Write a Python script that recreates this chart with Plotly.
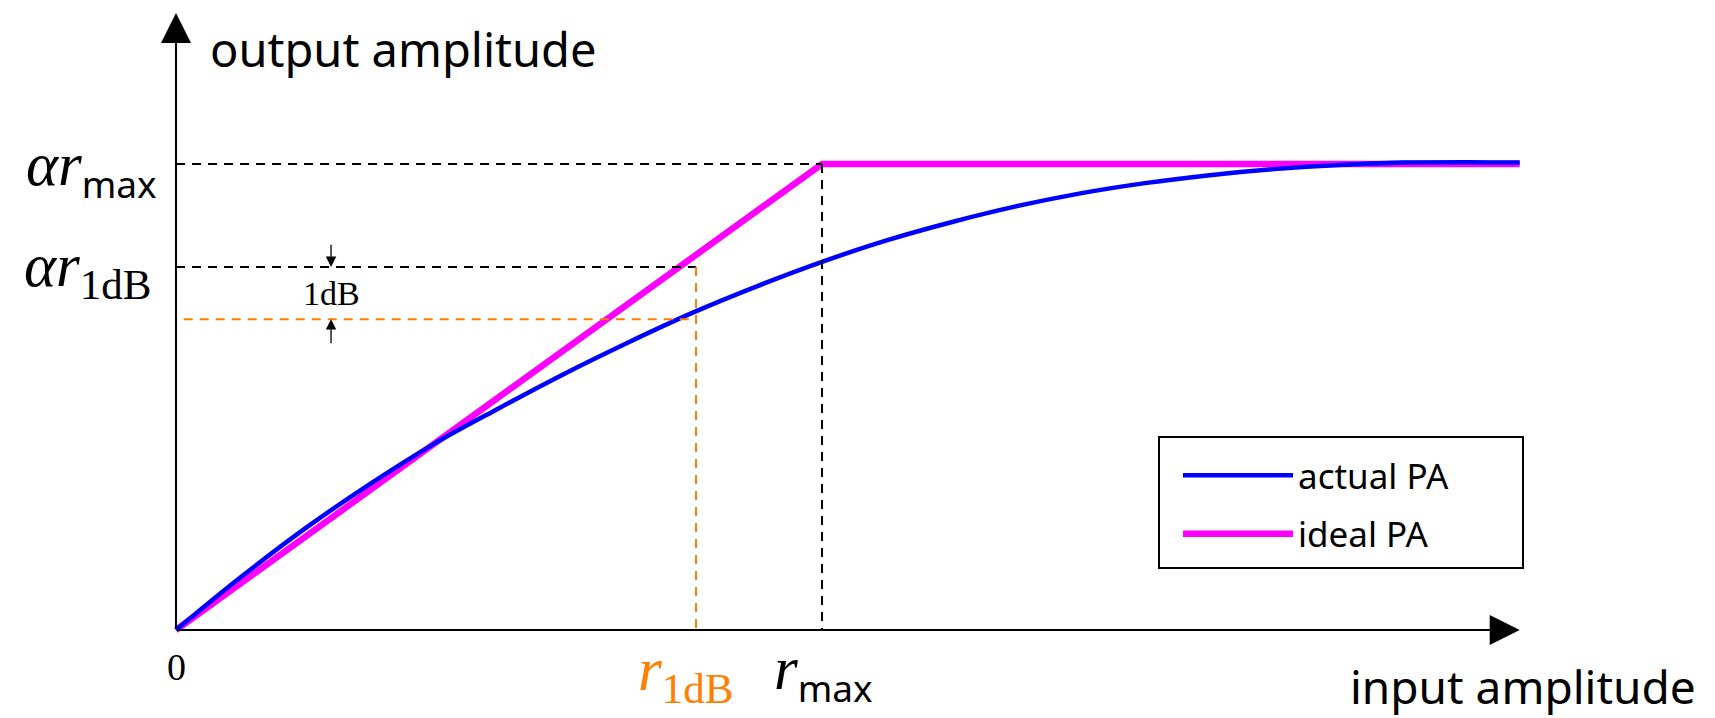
import plotly.graph_objects as go

# ---------------- data ----------------
actual_x = [0.0, 0.1, 0.2, 0.3, 0.4, 0.5, 0.6, 0.7, 0.8, 0.9, 1.0,
            1.1, 1.2, 1.3, 1.4, 1.5, 1.6, 1.7, 1.8, 1.9, 2.0, 2.08]
actual_y = [0.0, 0.113, 0.218, 0.313, 0.400, 0.476, 0.549, 0.617, 0.681, 0.738, 0.790,
            0.836, 0.875, 0.909, 0.937, 0.959, 0.976, 0.989, 0.998, 1.003, 1.004, 1.003]
ideal_x = [0.0, 1.0, 2.08]
ideal_y = [0.0, 1.0, 1.0]

r_max = 1.0
r_1dB = 0.805
a_rmax = 1.0          # alpha * r_max
a_r1dB = 0.779        # alpha * r_1dB
actual_at_r1dB = 0.667
x_end = 2.08
y_end = 1.324
gap_marker_x = 0.24
gap_arrow_top = 0.830
gap_arrow_bottom = 0.612

# ---------------- styling ----------------
BLUE = "#0000ff"
MAGENTA = "#ff00ff"
ORANGE = "#ff8000"
SANS = "Noto Sans"
SERIF = "Liberation Serif"

W, H = 1715, 718
# page px -> data : x = (px-176)/646 ; y = (630-py)/466
xr = [(0 - 176) / 646, (W - 176) / 646]
yr = [(630 - H) / 466, (630 - 0) / 466]

fig = go.Figure()
fig.add_trace(go.Scatter(x=ideal_x, y=ideal_y, mode="lines", name="ideal PA",
                         line=dict(color=MAGENTA, width=6.5), legendrank=2, legendgroup="b"))
fig.add_trace(go.Scatter(x=actual_x, y=actual_y, mode="lines", name="actual PA",
                         line=dict(color=BLUE, width=4.5, shape="spline", smoothing=1.0),
                         legendrank=1, legendgroup="a"))

dash = "9px,7px"
shapes = [
    dict(type="line", x0=0, x1=r_max, y0=a_rmax, y1=a_rmax, line=dict(color="black", width=2, dash=dash)),
    dict(type="line", x0=r_max, x1=r_max, y0=a_rmax, y1=0, line=dict(color="black", width=2, dash=dash)),
    dict(type="line", x0=0, x1=r_1dB, y0=a_r1dB, y1=a_r1dB, line=dict(color="black", width=2, dash=dash)),
    dict(type="line", x0=0.012, x1=r_1dB, y0=actual_at_r1dB, y1=actual_at_r1dB, line=dict(color=ORANGE, width=2, dash=dash)),
    dict(type="line", x0=r_1dB, x1=r_1dB, y0=a_r1dB, y1=0, line=dict(color=ORANGE, width=2, dash=dash)),
]
for s in shapes:
    s.update(xref="x", yref="y", layer="above")
# legend frame
shapes.append(dict(type="rect", xref="paper", yref="paper",
                   x0=1159 / W, x1=1523 / W, y0=1 - 568 / H, y1=1 - 437 / H,
                   line=dict(color="black", width=2), fillcolor="rgba(0,0,0,0)", layer="above"))

ann = []
# axes arrows
ann.append(dict(x=x_end, y=0, ax=0, ay=0, axref="x", ayref="y", xref="x", yref="y",
                text="", showarrow=True, arrowhead=2, arrowsize=3, arrowwidth=2, arrowcolor="black", standoff=0))
ann.append(dict(x=0, y=y_end, ax=0, ay=0, axref="x", ayref="y", xref="x", yref="y",
                text="", showarrow=True, arrowhead=2, arrowsize=3, arrowwidth=2, arrowcolor="black", standoff=0))
# 1 dB arrows
ann.append(dict(x=gap_marker_x, y=a_r1dB, ax=gap_marker_x, ay=gap_arrow_top, axref="x", ayref="y", xref="x", yref="y",
                text="", showarrow=True, arrowhead=2, arrowsize=1.6, arrowwidth=1.3, arrowcolor="black", standoff=0))
ann.append(dict(x=gap_marker_x, y=actual_at_r1dB, ax=gap_marker_x, ay=gap_arrow_bottom, axref="x", ayref="y", xref="x", yref="y",
                text="", showarrow=True, arrowhead=2, arrowsize=1.6, arrowwidth=1.3, arrowcolor="black", standoff=0))
ann.append(dict(x=gap_marker_x, y=(a_r1dB + actual_at_r1dB) / 2, text="1dB", showarrow=False,
                xref="x", yref="y", font=dict(family=SERIF, size=34, color="black")))

# axis titles
ann.append(dict(x=0.0495, y=1.247, text="output amplitude", showarrow=False, xref="x", yref="y",
                xanchor="left", yanchor="middle", font=dict(family=SANS, size=47, color="black")))
ann.append(dict(x=(1697 - 176) / 646, y=(630 - 686) / 466, text="input amplitude", showarrow=False,
                xref="x", yref="y", xanchor="right", yanchor="middle", borderpad=0,
                font=dict(family=SANS, size=46, color="black")))

SUB_MAX = "<sub><span style='font-family:Noto Sans;font-size:37px'>max</span></sub>"
SUB_1DB = "<sub><span style='font-size:43px'>1dB</span></sub>"

ann.append(dict(x=-0.026, y=a_rmax, text="<i>αr</i>" + SUB_MAX, yshift=-6,
                showarrow=False, xref="x", yref="y", xanchor="right", yanchor="middle",
                font=dict(family=SERIF, size=61, color="black")))
ann.append(dict(x=-0.036, y=a_r1dB, text="<i>αr</i>" + SUB_1DB, yshift=-3,
                showarrow=False, xref="x", yref="y", xanchor="right", yanchor="middle",
                font=dict(family=SERIF, size=61, color="black")))
ann.append(dict(x=0, y=-0.079, text="0", showarrow=False, xref="x", yref="y",
                font=dict(family=SERIF, size=38, color="black")))
ann.append(dict(x=r_1dB - 0.017, y=-0.095, text="<i>r</i>" + SUB_1DB, showarrow=False, xref="x", yref="y",
                font=dict(family=SERIF, size=61, color=ORANGE)))
ann.append(dict(x=r_max + 0.002, y=-0.095, text="<i>r</i>" + SUB_MAX,
                showarrow=False, xref="x", yref="y",
                font=dict(family=SERIF, size=61, color="black")))

fig.update_layout(
    width=W, height=H,
    margin=dict(l=0, r=0, t=0, b=0),
    paper_bgcolor="white", plot_bgcolor="white",
    xaxis=dict(range=xr, visible=False, fixedrange=True),
    yaxis=dict(range=yr, visible=False, fixedrange=True),
    shapes=shapes, annotations=ann,
    showlegend=True,
    legend=dict(x=1178 / W, y=1 - 446 / H, xanchor="left", yanchor="top",
                borderwidth=0, bgcolor="rgba(0,0,0,0)",
                font=dict(family=SANS, size=35, color="black"),
                itemwidth=110, tracegroupgap=10),
)

fig.write_html("out.html", config={"displayModeBar": False},
               post_script="document.body.style.margin='0';")
